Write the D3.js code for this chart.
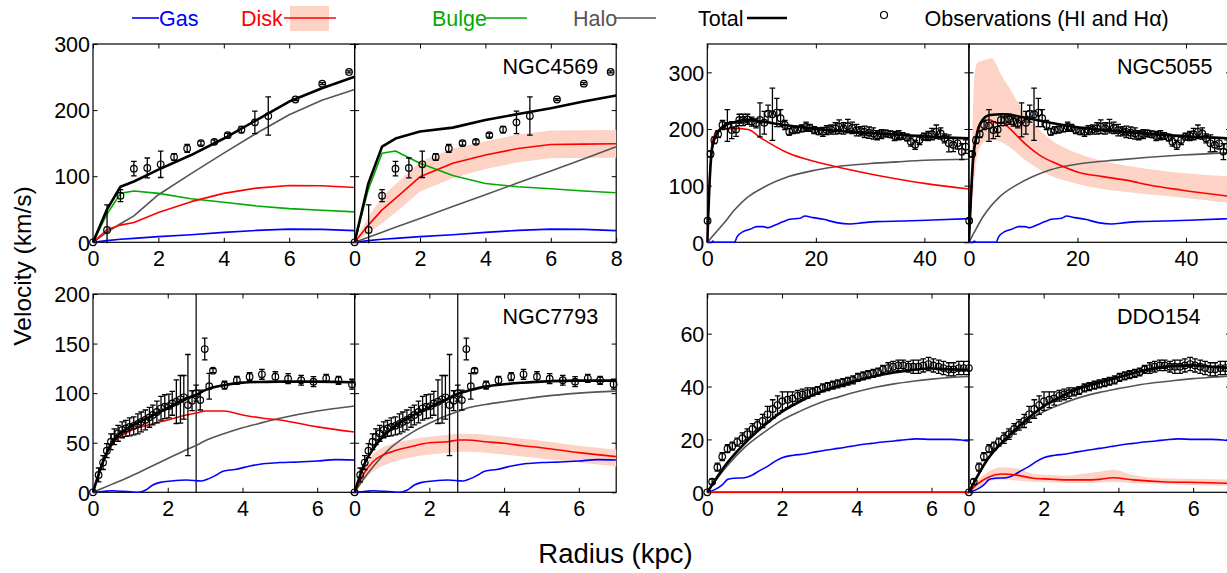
<!DOCTYPE html>
<html><head><meta charset="utf-8">
<script src="https://cdn.jsdelivr.net/npm/d3@7"></script>
<style>
body{margin:0;background:#fff}
svg{display:block}
text{font-family:"Liberation Sans",Arial,Helvetica,sans-serif}
</style>
</head><body>
<svg id="chart" width="1227" height="573"></svg>
<script>
// ---------------- DATA ----------------
const legendLabels = ["Gas", "Disk", "Bulge", "Halo", "Total", "Observations (HI and H\u03B1)"];
const galaxyNames = ["NGC4569", "NGC5055", "NGC7793", "DDO154"];

// NGC4569
const n4569_obsR = [0,0.43,0.84,1.25,1.66,2.07,2.48,2.88,3.30,3.71,4.12,4.54,4.95,5.36,6.19,7.01,7.83];
const n4569_obsV = [0,18.7,70.6,111.4,112.5,118,129,142,150,152,162,170.5,181.5,191,216,240,257.7];
const n4569_obsE = [0,38,9,11,15,20,5,6,3,3,3,5,17,29,1.5,1.5,1.5];
const n4569_r      = [0,0.42,0.84,1.25,2,3,4,5,6,7,8];
const n4569_gas    = [0,2.5,4.5,6,8.6,11.5,15,18,20,19.5,17.6];
const n4569_totalL = [0,49,84,92,110,132,157,185,213,233,250.6];
const n4569_haloL  = [0,15,28,40,72,104,135,165,193,215,231];
const n4569_bulgeL = [0,42,74,77.6,74,66,60.5,55,51,48.5,46];
const n4569_diskL  = [0,19,26,30,45,61.5,74,82,86,85.5,83];
const n4569_totalR = [0,89,144.7,157,167.5,173.5,185,194,202.7,213,222];
const n4569_haloR  = [0,7.6,15.2,22.7,36,54,72,90,108,126,144.7];
const n4569_bulgeR = [0,80,134.6,138,119.5,101,89,84,81,77.7,75];
const n4569_diskR  = [0,26,49,66.6,99,119.5,132,142,148,148.5,149];
const n4569_diskLo = [0,14,29,45,77,97,111,121,127,127.5,128];
const n4569_diskHi = [0,38,69,88,122,142,153,163,169,169.5,170];

// NGC5055
const n5055_obsR = [0.05,0.6,1.3,2.0,2.8,3.7,4.5,5.3,5.9,6.6,7.4,8.2,9.0,9.7,10.5,11.2,12.0,12.8,13.5,14.3,15.1,15.8,16.6,17.4,18.2,18.9,19.7,20.5,21.3,22.0,22.8,23.6,24.3,25.1,25.9,26.7,27.5,28.3,29.0,29.8,30.6,31.3,32.1,32.9,33.7,34.5,35.3,36.0,36.8,37.5,38.3,39.1,39.9,40.7,41.4,42.2,43.0,43.7,44.5,45.3,46.1,46.9,47.6];
const n5055_obsV = [38,156,180,191,207,206,198,199,216,216,217,213,210,216,211,227,226,229,219,207,195,198,199,201,204,202,198,196,195,198,199,201,204,201,205,202,198,196,195,193.5,192,189,191,192,190.6,187.6,189,187.6,185,177.6,172,180.6,186.5,187.6,191,195,192,183.5,174.7,172,174.7,160,168.8];
const n5055_obsE = [2,5,6,6,8,28,15,12,10,10,9,8,8,30,20,15,46,25,15,8,6,6,6,6,8,6,6,6,8,8,8,10,12,10,12,10,10,8,10,10,10,8,8,6,6,8,8,6,6,8,8,8,6,8,10,12,10,8,15,12,10,14,12];
const n5055_gasR   = [0,0.8,1.0,1.3,5.0,5.5,6.6,7.9,9.1,10.3,11.2,12.5,14,15.2,17.1,18,19.5,21.4,23.8,26.3,28.8,31.2,36.1,41.6,48.2];
const n5055_gas    = [0,0,2,0,0,10,18.8,23,27.6,27.6,25.9,30.6,36.5,40.6,42.4,46.5,43.5,40.6,34.7,32.4,34.7,36.5,37.6,39.4,41.8];
const n5055_rL     = [0,0.5,1,2,3,5,7.5,10,15,20,25,30,35,40,48.2];
const n5055_totalL = [0,120,172,195,205,212,216,213,206,200,196,193,190,187,183.5];
const n5055_haloL  = [0,5.5,11,22,33,57,80,95,116,127.6,135,139,142,144.7,146.5];
const n5055_diskL  = [0,130,180,198,200,201,199,183.5,157,142,130.6,120.6,111.8,104,94];
const n5055_totRr  = [0,0.8,1.4,2.3,3.85,6.3,10,15,20,25,30,35,40,48.2];
const n5055_totalR = [0,151,186.5,213,224.7,226,220.6,211,203,198,194,190,187,183.5];
const n5055_haloRr = [0,1,2.6,5.7,8.75,11.8,14.9,21,27,33.2,39.3,48.2];
const n5055_haloR  = [0,18,45,80.6,101,116,127.6,139.4,145,150,154,158];
const n5055_diskRr = [0,0.8,1.7,2.6,3.85,5.1,6.3,7.5,8.75,10.6,13,16,19.8,24.6,29.5,33.2,39.3,48.2];
const n5055_diskR  = [0,139,204,214.7,216,211,210,201,189,171.8,154,139.4,124.7,115.9,108.8,101,92,81];
const n5055_bandR  = [0,0.5,1,1.5,2.3,3,4.2,5,5.7,7.5,10,12.4,15,18,20,24,30,36,40,48.2];
const n5055_diskLo = [0,55,110,150,172,178,180,180,178,168,148,132,118,108,103,95,88,82,78,69];
const n5055_diskHi = [0,150,290,316,320,322,325,315,300,272,232,205,182,165,157,145,134,126,122,116];

// NGC7793
const n7793_obsR = [0,0.15,0.27,0.37,0.48,0.57,0.67,0.78,0.88,0.98,1.09,1.2,1.29,1.4,1.51,1.6,1.71,1.82,1.92,2.03,2.12,2.23,2.34,2.43,2.54,2.65,2.76,2.87,2.99,3.11,3.21,3.52,3.85,4.19,4.52,4.88,5.22,5.57,5.9,6.24,6.57,6.93];
const n7793_obsV = [0,17.5,30,42,51,56,59.5,63,64.5,66,67,69,71,73,75.6,78,81,84.7,86.4,87,89.7,91.4,93.8,95.8,88,92.4,100,93,144.5,107,122.7,108,113,116.6,119,116.6,114.6,113,111.6,115,113,109];
const n7793_obsE = [0,7,7,7,8,8,8,8,8,9,9,10,10,10,10,10,11,12,12,12,12,22,24,22,51,10,8,10,11,13,2,4,4,4,5,5,5,5,5,4,4,5];
const n7793_r      = [0,0.25,0.5,1,1.5,2,2.5,2.8,3,3.5,4,4.5,5,6,7];
const n7793_totalL = [0,29,50,66,75.6,85,94.8,99,103,108,110.6,111.3,111.6,111.6,111];
const n7793_diskL  = [0,29,48,62,68,73,78,80.3,82,82,78,75,73,66,60.8];
const n7793_haloL  = [0,4,8,16,25,34,43,48,52,59,65,70,74.6,82,87];
const n7793_totalR = [0,27.6,44,64.5,76.3,85.7,94.8,100,102,106.6,109,110.5,111.6,112.6,112.6];
const n7793_haloR  = [0,14,26,46,59.5,69.6,78,82,84.7,88.5,91.4,94,96.5,100,102];
const n7793_diskR  = [0,19,31,41,46,50,51,52.8,52.8,51,49.4,47,45,40,36];
const n7793_diskLo = [0,12,21,30,35,38,40,41,41,40,38,36,34,30,26];
const n7793_diskHi = [0,24,38,49,53,56,58,59,59,58,56,54,52,47,43];
const n7793_gasR   = [0,0.3,0.5,0.8,1,1.2,1.4,1.6,1.8,2.1,2.5,2.9,3.1,3.3,3.5,3.8,4.2,4.6,5,5.5,6,6.5,7];
const n7793_gas    = [0,1,1.5,1,0.5,0,2,7.4,10,11.4,12.4,11.4,13.8,17.5,21.5,23,26.5,29,30,30.6,31.6,33,32.6];
const n7793_vline  = 2.76;

// DDO154
const d154_obsR = [0,0.13,0.27,0.40,0.54,0.67,0.80,0.94,1.07,1.21,1.34,1.48,1.61,1.75,1.88,2.01,2.15,2.28,2.42,2.55,2.68,2.82,2.95,3.09,3.22,3.36,3.49,3.63,3.76,3.90,4.03,4.17,4.30,4.44,4.57,4.70,4.84,4.97,5.11,5.24,5.38,5.51,5.65,5.78,5.92,6.05,6.19,6.32,6.46,6.59,6.73,6.86,7.0];
const d154_obsV = [0,4,9.5,13.5,16.5,17.5,19,20.5,22,24,25.5,27,29.5,31.5,33,34.5,35,35.5,36.5,37,37.5,38,38.5,39.5,40,40.5,41,41.5,42,42.5,43.5,44,44.5,45,45.5,46.5,47,47.5,48,48,47.5,47.5,47.5,48,48.5,48,47.5,47,46.5,46.5,47,47,47];
const d154_obsE = [0,1,1.5,1.5,1.5,1.5,1.5,2,2,2,2,2.5,3,3.5,3.5,3.5,3,2.5,2,2,2,1.5,1.5,1.5,1.5,1.5,1.5,1.5,1.5,1.5,1.5,1.5,1.5,1.5,1.5,1.5,2,2,2,2,2,2.5,2.5,2.5,2.5,2.5,2.5,2.5,2.5,2.5,2.5,2.5,2.5];
const d154_r      = [0,0.5,1,1.5,2,2.5,3,3.5,4,4.5,5,5.5,6,6.5,7];
const d154_totalL = [0,10.5,18.5,25,30.5,34.5,37.8,40.2,42.3,44,45.3,46.3,46.8,46.5,46.3];
const d154_haloL  = [0,9.5,17,22.5,27.3,30.8,33.8,36,38,39.7,41,42,42.8,43.4,43.8];
const d154_diskL  = [0,0,0,0,0,0,0,0,0,0,0,0,0,0,0];
const d154_totalR = [0,12.5,20.5,27,32.5,36.5,39.5,41.5,43.5,45.5,47,47.8,48,47.5,47];
const d154_haloR  = [0,12.5,20.5,26.5,30.5,33.5,36,37.8,39.2,40.5,41.5,42.3,43,43.5,44];
const d154_diskRr = [0,0.2,0.52,0.87,1.28,1.72,2.17,2.6,3.06,3.5,3.86,4.4,5.3,6.2,7];
const d154_diskR  = [0,2.8,5.7,6.9,6.5,5.3,5,4.7,4.7,4.9,5.5,4.7,3.9,3.7,3.4];
const d154_diskLo = [0,1.5,4,4.8,4.5,4,3.8,3.6,3.5,3.7,3.9,3.5,3,2.7,2.5];
const d154_diskHi = [0,4,7.8,9.5,9,7,6.5,6.3,7,7.8,8.5,6.5,5.2,5,4.8];
const d154_gasR   = [0,0.2,0.4,0.55,0.7,1.0,1.2,1.4,1.6,1.8,2.0,2.3,2.6,2.9,3.2,3.5,3.8,4.1,4.4,4.7,5.0,5.3,5.6,6.0,6.5,6.8,7.0];
const d154_gas    = [0,1,2.8,4.9,5.3,5.5,6.5,8.2,9.7,11.6,13.1,14,14.5,15.3,16,16.6,17.3,18,18.5,19,19.4,19.9,20.2,20,20,19.8,19.4];

// ticks
const ticks4569X = [0,2,4,6,8], ticks4569Y = [0,100,200,300];
const ticks5055X = [0,20,40],   ticks5055Y = [0,100,200,300];
const ticks7793X = [0,2,4,6],   ticks7793Y = [0,50,100,150,200];
const ticksD154X = [0,2,4,6],   ticksD154Y = [0,20,40,60];

// ---------------- STYLE ----------------
const C = {gas:"#0000ff", disk:"#ff0000", bulge:"#00aa00", halo:"#555555", total:"#000000", band:"#fcd3c5"};
const FONT = 21.5;
const svg = d3.select("#chart");
let clipN = 0;

function crv(r, v, color, w){ return {r, v, color, w}; }

function drawPanel(p){
  const x = d3.scaleLinear().domain(p.xd).range([p.x, p.x + p.w]);
  const y = d3.scaleLinear().domain(p.yd).range([p.y + p.h, p.y]);
  const id = "clip" + (clipN++);
  svg.append("clipPath").attr("id", id).append("rect")
    .attr("x", p.x - 1).attr("y", p.y - 1).attr("width", p.w + 2).attr("height", p.h + 2);
  const g = svg.append("g");

  // axes first (data drawn on top, like MATLAB)
  const TL = 4.5;
  const fmtX = d => (p.hideX && p.hideX.includes(d)) ? "" : d;
  const axg = g.append("g");
  axg.append("rect").attr("x", p.x).attr("y", p.y).attr("width", p.w).attr("height", p.h)
    .attr("fill","none").attr("stroke","#000").attr("stroke-width",1.2);
  axg.append("g").attr("transform", `translate(0,${p.y + p.h})`)
    .call(d3.axisBottom(x).tickValues(p.xt).tickSizeInner(-TL).tickSizeOuter(0).tickPadding(8).tickFormat(fmtX));
  axg.append("g").attr("transform", `translate(0,${p.y})`)
    .call(d3.axisTop(x).tickValues(p.xt).tickSizeInner(-TL).tickSizeOuter(0).tickFormat(""));
  const ay = axg.append("g").attr("transform", `translate(${p.x},0)`)
    .call(d3.axisLeft(y).tickValues(p.yt).tickSizeInner(-TL).tickSizeOuter(0).tickPadding(3).tickFormat(p.showY ? (d=>d) : ""));
  axg.append("g").attr("transform", `translate(${p.x + p.w},0)`)
    .call(d3.axisRight(y).tickValues(p.yt).tickSizeInner(-TL).tickSizeOuter(0).tickFormat(""));
  axg.selectAll(".domain").remove();
  axg.selectAll(".tick line").attr("stroke","#000").attr("stroke-width",1);
  axg.selectAll(".tick text").attr("font-size", FONT).attr("fill","#000")
    .attr("font-family", '"Liberation Sans",Arial,sans-serif');
  ay.selectAll(".tick text").attr("dy","0.36em");

  const cg = g.append("g").attr("clip-path", `url(#${id})`);
  const curve = p.curve || d3.curveMonotoneX;
  if (p.band){
    const bd = p.band.r.map((r,i)=>[r, p.band.lo[i], p.band.hi[i]]);
    cg.append("path").datum(bd).attr("fill", C.band).attr("stroke","none")
      .attr("d", d3.area().x(d=>x(d[0])).y0(d=>y(d[1])).y1(d=>y(d[2])).curve(curve));
  }
  if (p.vline !== undefined){
    cg.append("line").attr("x1", x(p.vline)).attr("x2", x(p.vline))
      .attr("y1", p.y).attr("y2", p.y + p.h).attr("stroke", "#000").attr("stroke-width", 1.2);
  }
  p.curves.forEach(c=>{
    cg.append("path").datum(c.r.map((r,i)=>[r, c.v[i]]))
      .attr("fill","none").attr("stroke", c.color).attr("stroke-width", c.w)
      .attr("stroke-linejoin","round")
      .attr("d", d3.line().x(d=>x(d[0])).y(d=>y(d[1])).curve(curve));
  });
  // observations
  const obs = p.obs.r.map((r,i)=>({r, v:p.obs.v[i], e:p.obs.e[i]})).filter(d=>d.r <= p.xd[1]);
  const eg = cg.append("g").attr("stroke","#000").attr("stroke-width",1.3);
  obs.forEach(d=>{
    if (d.e <= 0) return;
    const xx = x(d.r), y1 = y(d.v - d.e), y2 = y(d.v + d.e);
    eg.append("line").attr("x1",xx).attr("x2",xx).attr("y1",y1).attr("y2",y2);
    eg.append("line").attr("x1",xx-2.8).attr("x2",xx+2.8).attr("y1",y1).attr("y2",y1);
    eg.append("line").attr("x1",xx-2.8).attr("x2",xx+2.8).attr("y1",y2).attr("y2",y2);
  });
  g.append("g").selectAll("circle").data(obs).join("circle")
    .attr("cx", d=>x(d.r)).attr("cy", d=>y(d.v)).attr("r", 3.3)
    .attr("fill","none").attr("stroke","#000").attr("stroke-width",1.2);

  if (p.label){
    g.append("text").attr("x", p.x + 148).attr("y", p.y + 30).attr("font-size", FONT)
      .attr("fill","#000").text(p.label);
  }
}

// ---------------- LAYOUT ----------------
const PW = 261.6, PH = 198.3;
const cols = [93, 707.3], rows = [44, 294];

function pair(ox, oy, cfg){
  drawPanel(Object.assign({x: ox, y: oy, w: PW, h: PH, showY: true, hideX: cfg.hideLeftX}, cfg.common, cfg.left));
  drawPanel(Object.assign({x: ox + PW, y: oy, w: PW, h: PH, showY: false, label: cfg.label}, cfg.common, cfg.right));
}

// NGC4569
pair(cols[0], rows[0], {
  label: galaxyNames[0], hideLeftX: [8],
  common: {xd:[0,8], yd:[0,300], xt:ticks4569X, yt:ticks4569Y, curve: d3.curveLinear,
           obs:{r:n4569_obsR, v:n4569_obsV, e:n4569_obsE}},
  left: {curves:[crv(n4569_r,n4569_gas,C.gas,1.6), crv(n4569_r,n4569_haloL,C.halo,1.6),
                 crv(n4569_r,n4569_bulgeL,C.bulge,1.6), crv(n4569_r,n4569_diskL,C.disk,1.6),
                 crv(n4569_r,n4569_totalL,C.total,2.6)]},
  right: {band:{r:n4569_r, lo:n4569_diskLo, hi:n4569_diskHi},
          curves:[crv(n4569_r,n4569_gas,C.gas,1.6), crv(n4569_r,n4569_haloR,C.halo,1.6),
                 crv(n4569_r,n4569_bulgeR,C.bulge,1.6), crv(n4569_r,n4569_diskR,C.disk,1.6),
                 crv(n4569_r,n4569_totalR,C.total,2.6)]}
});

// NGC5055
pair(cols[1], rows[0], {
  label: galaxyNames[1], hideLeftX: [],
  common: {xd:[0,48.2], yd:[0,350], xt:ticks5055X, yt:ticks5055Y,
           obs:{r:n5055_obsR, v:n5055_obsV, e:n5055_obsE}},
  left: {curves:[crv(n5055_gasR,n5055_gas,C.gas,1.6), crv(n5055_rL,n5055_haloL,C.halo,1.6),
                 crv(n5055_rL,n5055_diskL,C.disk,1.6), crv(n5055_rL,n5055_totalL,C.total,2.6)]},
  right: {band:{r:n5055_bandR, lo:n5055_diskLo, hi:n5055_diskHi},
          curves:[crv(n5055_gasR,n5055_gas,C.gas,1.6), crv(n5055_haloRr,n5055_haloR,C.halo,1.6),
                 crv(n5055_diskRr,n5055_diskR,C.disk,1.6), crv(n5055_totRr,n5055_totalR,C.total,2.6)]}
});

// NGC7793
pair(cols[0], rows[1], {
  label: galaxyNames[2], hideLeftX: [],
  common: {xd:[0,7], yd:[0,200], xt:ticks7793X, yt:ticks7793Y, vline:n7793_vline,
           obs:{r:n7793_obsR, v:n7793_obsV, e:n7793_obsE}},
  left: {curves:[crv(n7793_gasR,n7793_gas,C.gas,1.6), crv(n7793_r,n7793_haloL,C.halo,1.6),
                 crv(n7793_r,n7793_diskL,C.disk,1.6), crv(n7793_r,n7793_totalL,C.total,2.6)]},
  right: {band:{r:n7793_r, lo:n7793_diskLo, hi:n7793_diskHi},
          curves:[crv(n7793_gasR,n7793_gas,C.gas,1.6), crv(n7793_r,n7793_haloR,C.halo,1.6),
                 crv(n7793_r,n7793_diskR,C.disk,1.6), crv(n7793_r,n7793_totalR,C.total,2.6)]}
});

// DDO154
pair(cols[1], rows[1], {
  label: galaxyNames[3], hideLeftX: [],
  common: {xd:[0,7], yd:[0,75], xt:ticksD154X, yt:ticksD154Y,
           obs:{r:d154_obsR, v:d154_obsV, e:d154_obsE}},
  left: {curves:[crv(d154_gasR,d154_gas,C.gas,1.6), crv(d154_r,d154_haloL,C.halo,1.6),
                 crv(d154_r,d154_diskL,C.disk,2.2), crv(d154_r,d154_totalL,C.total,2.6)]},
  right: {band:{r:d154_diskRr, lo:d154_diskLo, hi:d154_diskHi},
          curves:[crv(d154_gasR,d154_gas,C.gas,1.6), crv(d154_r,d154_haloR,C.halo,1.6),
                 crv(d154_diskRr,d154_diskR,C.disk,1.6), crv(d154_r,d154_totalR,C.total,2.6)]}
});

// ---------------- AXIS TITLES ----------------
svg.append("text").attr("x", 615.5).attr("y", 563).attr("text-anchor","middle")
  .attr("font-size", 27.5).text("Radius (kpc)");
svg.append("text").attr("transform","translate(31,266) rotate(-90)").attr("text-anchor","middle")
  .attr("font-size", 24.5).text("Velocity (km/s)");

// ---------------- LEGEND ----------------
const lg = svg.append("g").attr("font-size", FONT);
const LY = 18, TB = 26;
lg.append("line").attr("x1",132).attr("x2",159).attr("y1",LY).attr("y2",LY).attr("stroke",C.gas).attr("stroke-width",1.6);
lg.append("text").attr("x",159).attr("y",TB).attr("fill",C.gas).text(legendLabels[0]);
lg.append("text").attr("x",241).attr("y",TB).attr("fill",C.disk).text(legendLabels[1]);
lg.append("rect").attr("x",290).attr("y",6).attr("width",39).attr("height",25).attr("fill",C.band);
lg.append("line").attr("x1",284).attr("x2",336).attr("y1",LY).attr("y2",LY).attr("stroke",C.disk).attr("stroke-width",1.6);
lg.append("text").attr("x",432).attr("y",TB).attr("fill",C.bulge).text(legendLabels[2]);
lg.append("line").attr("x1",486).attr("x2",527).attr("y1",LY).attr("y2",LY).attr("stroke",C.bulge).attr("stroke-width",1.6);
lg.append("text").attr("x",573).attr("y",TB).attr("fill",C.halo).text(legendLabels[3]);
lg.append("line").attr("x1",616).attr("x2",656).attr("y1",LY).attr("y2",LY).attr("stroke",C.halo).attr("stroke-width",1.6);
lg.append("text").attr("x",698).attr("y",TB).attr("fill",C.total).text(legendLabels[4]);
lg.append("line").attr("x1",747).attr("x2",787).attr("y1",LY).attr("y2",LY).attr("stroke",C.total).attr("stroke-width",2.6);
lg.append("circle").attr("cx",884).attr("cy",15).attr("r",3.5).attr("fill","none").attr("stroke","#000").attr("stroke-width",1.2);
lg.append("text").attr("x",924.5).attr("y",TB).attr("fill","#000").text(legendLabels[5]);
</script>
</body></html>
